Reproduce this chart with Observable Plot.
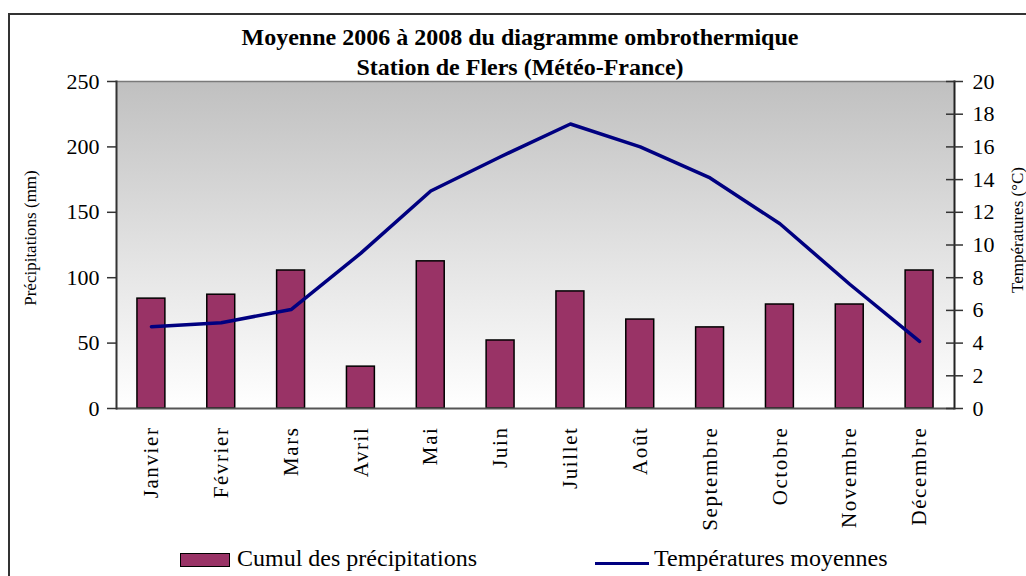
<!DOCTYPE html>
<html>
<head>
<meta charset="utf-8">
<script src="https://cdn.jsdelivr.net/npm/d3@7"></script>
<script src="https://cdn.jsdelivr.net/npm/@observablehq/plot@0.6"></script>
<style>
  html, body { margin: 0; padding: 0; background: white; }
  #wrap { position: relative; width: 1026px; height: 576px; overflow: hidden; font-family: "Liberation Serif", "Times New Roman", serif; color: black; }
  #chart { position: absolute; left: 0; top: 0; }
  #border { position: absolute; left: 8px; top: 13px; width: 1100px; height: 700px; border: 2px solid #333333; pointer-events: none; box-sizing: border-box; }
  .title { position: absolute; left: 520px; transform: translate(-50%, -50%); font-weight: bold; font-size: 24px; white-space: nowrap; }
  .vlabel { position: absolute; transform: translate(-50%, -50%) rotate(-90deg); font-size: 17px; white-space: nowrap; }
  .legtext { position: absolute; font-size: 24px; white-space: nowrap; transform: translateY(-50%); }
  g[aria-label="x-axis tick label"] { letter-spacing: 1.6px; }
</style>
</head>
<body>
<div id="wrap">
  <div id="chart"></div>
  <div class="title" style="top:37px">Moyenne 2006 à 2008 du diagramme ombrothermique</div>
  <div class="title" style="top:67px">Station de Flers (Météo-France)</div>
  <div class="vlabel" style="left:31px; top:238px">Précipitations (mm)</div>
  <div class="vlabel" style="left:1018px; top:230px">Températures (°C)</div>
  <div style="position:absolute; left:180px; top:553px; width:50px; height:14px; background:#993366; border:1.5px solid black; box-sizing:border-box"></div>
  <div class="legtext" style="left:237px; top:558px">Cumul des précipitations</div>
  <div style="position:absolute; left:595px; top:561.5px; width:54px; height:3px; background:#000080"></div>
  <div class="legtext" style="left:654px; top:558px">Températures moyennes</div>
  <div id="border"></div>
</div>
<script>
const months = ["Janvier", "Février", "Mars", "Avril", "Mai", "Juin", "Juillet", "Août", "Septembre", "Octobre", "Novembre", "Décembre"];
const precipitation = [84, 87, 105.5, 32, 112.5, 52, 89.5, 68, 62, 79.5, 79.5, 105.5];
const temperature = [5.0, 5.25, 6.05, 9.5, 13.3, 15.4, 17.4, 16.0, 14.1, 11.3, 7.6, 4.1];
const precipTicks = [0, 50, 100, 150, 200, 250];
const tempTicks = [0, 2, 4, 6, 8, 10, 12, 14, 16, 18, 20];
const tempMax = 20, precipMax = 250;
const k = precipMax / tempMax;

const data = months.map((m, i) => ({month: m, precip: precipitation[i], temp: temperature[i]}));

const plot = Plot.plot({
  width: 1026,
  height: 576,
  marginTop: 81,
  marginBottom: 168,
  marginLeft: 116,
  marginRight: 72,
  style: {fontFamily: "'Liberation Serif', 'Times New Roman', serif", fontSize: "22px", background: "transparent", color: "black"},
  x: {domain: months, paddingInner: 0.6, paddingOuter: 0.3, round: false, label: null, axis: null},
  y: {domain: [0, precipMax], label: null, axis: null},
  marks: [
    Plot.frame({fill: "url(#bg)", stroke: "none"}),
    Plot.frame({anchor: "top", stroke: "#7a7a7a", strokeWidth: 1.5}),
    Plot.barY(data, {x: "month", y: "precip", fill: "#993366", stroke: "black", strokeWidth: 1.5}),
    Plot.line(data, {x: "month", y: d => d.temp * k, stroke: "#000080", strokeWidth: 3.5, strokeLinejoin: "round"}),
    Plot.ruleY([0], {stroke: "#555555", strokeWidth: 2}),
    Plot.frame({anchor: "left", stroke: "#333333", strokeWidth: 2}),
    Plot.frame({anchor: "right", stroke: "#222222", strokeWidth: 2}),
    Plot.axisY(precipTicks, {anchor: "left", tickSize: 9, tickPadding: 8, fontSize: 22, stroke: "#333333", strokeWidth: 1.5, label: null}),
    Plot.axisY(tempTicks.map(t => t * k), {anchor: "right", tickSize: 17, dx: -9, tickPadding: 10, fontSize: 22, tickFormat: v => String(Math.round(v / k)), stroke: "#333333", strokeWidth: 1.5, label: null}),
    Plot.axisX({tickRotate: -90, tickSize: 0, tickPadding: 18, fontSize: 21, label: null})
  ]
});

const ns = "http://www.w3.org/2000/svg";
const defs = document.createElementNS(ns, "defs");
const grad = document.createElementNS(ns, "linearGradient");
grad.setAttribute("id", "bg");
grad.setAttribute("x1", "0"); grad.setAttribute("y1", "0");
grad.setAttribute("x2", "0"); grad.setAttribute("y2", "1");
[["0%", "#c0c0c0"], ["55%", "#e4e4e4"], ["100%", "#ffffff"]].forEach(([o, c]) => {
  const s = document.createElementNS(ns, "stop");
  s.setAttribute("offset", o); s.setAttribute("stop-color", c);
  grad.appendChild(s);
});
defs.appendChild(grad);
plot.insertBefore(defs, plot.firstChild);
document.getElementById("chart").appendChild(plot);
</script>
</body>
</html>
